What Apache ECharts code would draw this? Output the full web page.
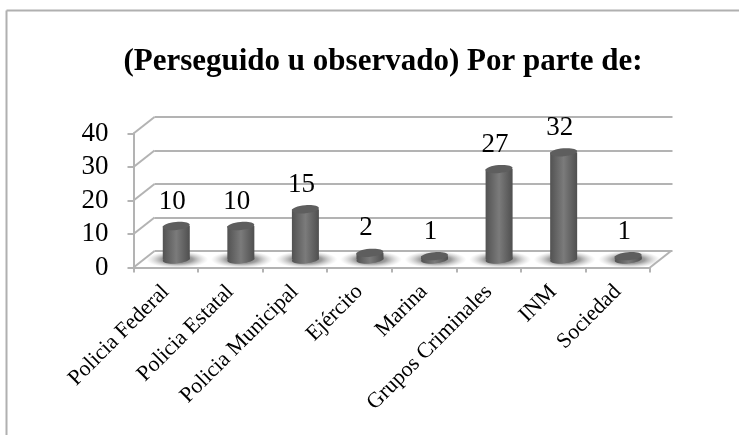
<!DOCTYPE html>
<html>
<head>
<meta charset="utf-8">
<style>
  html, body { margin: 0; padding: 0; background: #fff; }
  #chart { width: 739px; height: 435px; }
</style>
<script src="https://cdn.jsdelivr.net/npm/echarts@6/dist/echarts.min.js"></script>
</head>
<body>
<div id="chart"></div>
<script>
var titleText = '(Perseguido u observado) Por parte de:';
var categories = ['Policia Federal', 'Policia Estatal', 'Policia Municipal', 'Ejército', 'Marina', 'Grupos Criminales', 'INM', 'Sociedad'];
var values = [10, 10, 15, 2, 1, 27, 32, 1];
var yTicks = [0, 10, 20, 30, 40];

var fontName = 'Liberation Serif';
var lineColor = '#b3b3b3';
// how far the back wall sits from the front of the floor
var depthX = 21;
var depthY = -16.5;

var myChart = echarts.init(document.getElementById('chart'));

function wallLines(params, api) {
  var tick = api.value(0);
  var p = api.coord([0, tick]);
  var left = params.coordSys.x;
  var right = left + params.coordSys.width;
  var lineStyle = { stroke: lineColor, lineWidth: 2 };
  var children = [{
    type: 'line',
    shape: { x1: left, y1: p[1], x2: left + depthX, y2: p[1] + depthY },
    style: lineStyle
  }];
  if (tick === 0) {
    children.push({
      type: 'line',
      shape: { x1: right, y1: p[1], x2: right + depthX, y2: p[1] + depthY },
      style: lineStyle
    });
  }
  return { type: 'group', children: children };
}

function cylinder(params, api) {
  var idx = api.value(0);
  var val = api.value(1);
  var base = api.coord([idx, 0]);
  var top = api.coord([idx, val]);
  var rx = 13.5;
  var ry = 4;
  var tilt = 0.09;
  var side = new echarts.graphic.LinearGradient(0, 0, 1, 0, [
    { offset: 0, color: '#525252' },
    { offset: 0.5, color: '#7b7b7b' },
    { offset: 1, color: '#4f4f4f' }
  ]);
  // radial gradients use the short side of the box, so scale a circle instead of an ellipse
  var shadow = new echarts.graphic.RadialGradient(0.5, 0.5, 0.5, [
    { offset: 0, color: 'rgba(95,95,95,0.95)' },
    { offset: 0.5, color: 'rgba(125,125,125,0.75)' },
    { offset: 1, color: 'rgba(190,190,190,0)' }
  ]);
  return {
    type: 'group',
    children: [
      {
        type: 'circle',
        x: base[0] + 1, y: base[1],
        scaleX: 3.1, scaleY: 0.85,
        shape: { cx: 0, cy: 0, r: 10 },
        style: { fill: shadow }
      },
      {
        type: 'ellipse',
        x: base[0], y: base[1],
        rotation: tilt,
        shape: { cx: 0, cy: 0, rx: rx, ry: ry },
        style: { fill: side }
      },
      {
        type: 'rect',
        shape: { x: base[0] - rx, y: top[1], width: rx * 2, height: base[1] - top[1] },
        style: { fill: side }
      },
      {
        type: 'ellipse',
        x: top[0], y: top[1],
        rotation: tilt,
        shape: { cx: 0, cy: 0, rx: rx, ry: ry },
        style: { fill: '#5e5e5e' }
      },
      {
        type: 'text',
        x: top[0] - 4, y: top[1] - 11,
        style: {
          text: String(val),
          font: '27px "' + fontName + '"',
          fill: '#000',
          align: 'center',
          verticalAlign: 'bottom'
        }
      }
    ]
  };
}

var option = {
  animation: false,
  backgroundColor: '#fff',
  title: {
    text: titleText,
    left: 378,
    top: 41,
    textAlign: 'center',
    textStyle: { fontFamily: fontName, fontSize: 31, fontWeight: 'bold', color: '#000' }
  },
  graphic: [
    { type: 'line', shape: { x1: 6.5, y1: 10.5, x2: 739, y2: 10.5 }, style: { stroke: '#b0b0b0', lineWidth: 2 } },
    { type: 'line', shape: { x1: 6.5, y1: 10.5, x2: 6.5, y2: 435 }, style: { stroke: '#b0b0b0', lineWidth: 2 } }
  ],
  grid: [
    // front of the floor, carries the visible axes
    { left: 133.5, top: 133.5, width: 516.5, height: 134 },
    // back wall, carries the gridlines
    { left: 154.5, top: 117, width: 518, height: 134 },
    // middle of the floor, where the bars stand
    { left: 144, top: 125.5, width: 516.5, height: 134 }
  ],
  xAxis: [
    {
      type: 'category',
      gridIndex: 0,
      data: categories,
      axisLine: { lineStyle: { color: lineColor, width: 2 } },
      axisTick: { show: true, length: 5, lineStyle: { color: lineColor, width: 2 } },
      axisLabel: { interval: 0, rotate: 45, fontFamily: fontName, fontSize: 22, color: '#000', margin: 21 }
    },
    { type: 'category', gridIndex: 1, data: categories, show: false },
    { type: 'category', gridIndex: 2, data: categories, show: false }
  ],
  yAxis: [
    {
      type: 'value',
      gridIndex: 0,
      min: 0,
      max: 40,
      interval: 10,
      axisLine: { show: true, lineStyle: { color: lineColor, width: 2 } },
      axisTick: { show: true, length: 6, lineStyle: { color: lineColor, width: 2 } },
      axisLabel: { fontFamily: fontName, fontSize: 27, color: '#000', margin: 25, padding: [3, 0, 0, 0] },
      splitLine: { show: false }
    },
    {
      type: 'value',
      gridIndex: 1,
      min: 0,
      max: 40,
      interval: 10,
      axisLine: { show: false },
      axisTick: { show: false },
      axisLabel: { show: false },
      splitLine: { show: true, lineStyle: { color: lineColor, width: 2 } }
    },
    { type: 'value', gridIndex: 2, min: 0, max: 40, interval: 10, show: false, splitLine: { show: false } }
  ],
  series: [
    {
      type: 'custom',
      xAxisIndex: 0,
      yAxisIndex: 0,
      renderItem: wallLines,
      silent: true,
      clip: false,
      encode: { y: 0 },
      data: yTicks.map(function (t) { return [t]; }),
      z: 1
    },
    {
      type: 'custom',
      xAxisIndex: 2,
      yAxisIndex: 2,
      renderItem: cylinder,
      clip: false,
      encode: { x: 0, y: 1 },
      data: values.map(function (v, i) { return [i, v]; }),
      z: 5
    }
  ]
};

myChart.setOption(option);
</script>
</body>
</html>
